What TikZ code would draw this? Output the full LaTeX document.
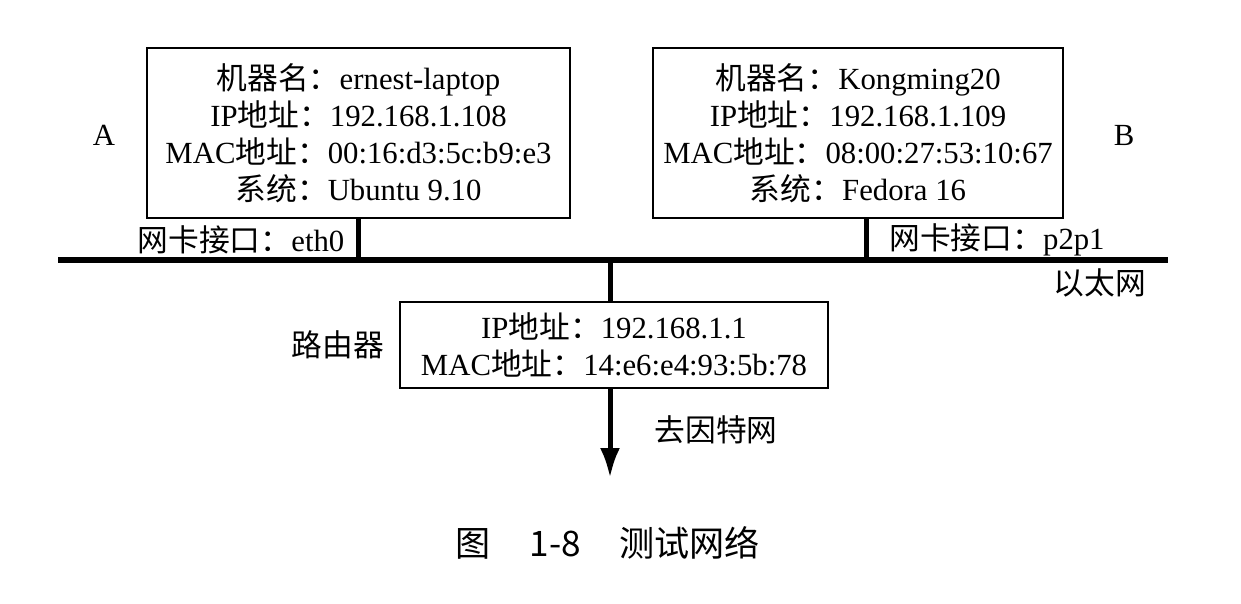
\documentclass[tikz,border=0pt]{standalone}
\usepackage{fontspec}
\setmainfont{Liberation Serif}
\newfontfamily\cjk{Noto Sans CJK SC}
\newcommand{\zh}[1]{{\cjk #1}}
\usetikzlibrary{arrows.meta}
\tikzset{
  hostbox/.style={draw, line width=0.04cm, align=center, minimum height=3.4cm,
    font=\fontsize{17.5}{21}\selectfont},
  routerbox/.style={draw, line width=0.04cm, align=center, minimum width=8.56cm,
    minimum height=1.72cm, font=\fontsize{17.5}{21}\selectfont},
  lbl/.style={font=\fontsize{17.5}{21}\selectfont, inner sep=0pt},
  ether/.style={line width=0.12cm},
  stub/.style={line width=0.1cm},
  uplink/.style={line width=0.1cm, -{Latex[length=0.6cm, width=0.4cm]}}
}
\begin{document}
\begin{tikzpicture}[x=0.02cm, y=-0.02cm]
\useasboundingbox (0,0) rectangle (1241,604);
% the two hosts
\node[hostbox, minimum width=8.46cm] (hostA) at (358.5,133)
  {\zh{机器名：}ernest-laptop\\ IP\zh{地址：}192.168.1.108\\ MAC\zh{地址：}00:16:d3:5c:b9:e3\\ \zh{系统：}Ubuntu 9.10};
\node[hostbox, minimum width=8.2cm] (hostB) at (858,133)
  {\zh{机器名：}Kongming20\\ IP\zh{地址：}192.168.1.109\\ MAC\zh{地址：}08:00:27:53:10:67\\ \zh{系统：}Fedora 16};
\node[lbl] (labA) at (104,135) {A};
\node[lbl] (labB) at (1124,135) {B};
% ethernet
\coordinate (ethL) at (58,260);
\coordinate (ethR) at (1168,260);
\coordinate (tapB) at (866,260);
\coordinate (tapR) at (610,260);
\draw[ether] (ethL) -- (ethR);
\draw[stub] (hostA.south) -- (hostA.south |- ethL);
\draw[stub] (tapB |- hostB.south) -- (tapB);
\node[lbl] (nicA) at (241,240) {\zh{网卡接口：}eth0};
\node[lbl] (nicB) at (997,240) {\zh{网卡接口：}p2p1};
\node[lbl] (ethname) at (1100,283) {\zh{以太网}};
% router
\node[routerbox] (router) at (614,345)
  {IP\zh{地址：}192.168.1.1\\ MAC\zh{地址：}14:e6:e4:93:5b:78};
\node[lbl] (rtname) at (338,345) {\zh{路由器}};
\draw[stub] (tapR) -- (tapR |- router.north);
\coordinate (inet) at (610,478);
\draw[uplink] (tapR |- router.south) -- (inet);
\node[lbl] (inetname) at (716,430) {\zh{去因特网}};
% caption
\node[font=\cjk\fontsize{20}{24}\selectfont, inner sep=0pt] (caption) at (608,543)
  {图\hspace{1.1em}1-8\hspace{1.1em}测试网络};
\end{tikzpicture}
\end{document}
